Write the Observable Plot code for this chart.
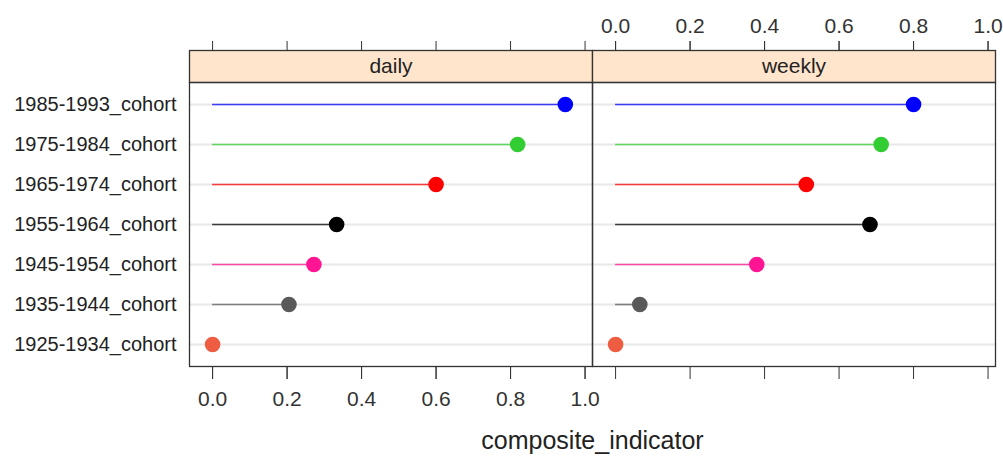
<!DOCTYPE html>
<html><head><meta charset="utf-8">
<script src="https://cdn.jsdelivr.net/npm/d3@7"></script>
<script src="https://cdn.jsdelivr.net/npm/@observablehq/plot@0.6"></script>
<style>
body{margin:0;background:#fff;}
svg{font-family:"Liberation Sans",Arial,sans-serif;}
</style>
</head><body><div id="chart"></div>
<script>
const cohorts = ["1985-1993_cohort","1975-1984_cohort","1965-1974_cohort","1955-1964_cohort","1945-1954_cohort","1935-1944_cohort","1925-1934_cohort"];
const cohortColors = ["#0000ff","#32cd32","#ff0000","#000000","#ff1493","#595959","#ee5c42"];
const panels = ["daily","weekly"];
const dailyValues = [0.947, 0.819, 0.600, 0.333, 0.272, 0.205, 0.0];
const weeklyValues = [0.800, 0.713, 0.512, 0.683, 0.379, 0.065, 0.0];
const xTicks = [0, 0.2, 0.4, 0.6, 0.8, 1.0];
const axisTitle = "composite_indicator";

const rows = panels.flatMap(p => cohorts.map((c, i) => ({
  panel: p, cohort: c, value: (p === "daily" ? dailyValues : weeklyValues)[i]
})));

const W = 1003, H = 459, mT = 82, mB = 93, mL = 189, mR = 8;
const frameH = H - mT - mB;
const stripH = 32;
const fmt = d3.format(".1f");

const chart = Plot.plot({
  width: W, height: H,
  marginLeft: mL, marginRight: mR, marginTop: mT, marginBottom: mB,
  style: {fontFamily: '"Liberation Sans",Arial,sans-serif', background: "#fff", overflow: "visible", color: "#222"},
  fx: {domain: panels, padding: 0, axis: null},
  x: {domain: [-0.062, 1.02], label: null},
  y: {type: "point", domain: cohorts, padding: 0.55, label: null},
  color: {type: "ordinal", domain: cohorts, range: cohortColors},
  marks: [
    Plot.frame({fill: "#ffe5cc", stroke: "#333", strokeWidth: 1.3, insetTop: -stripH, insetBottom: frameH}),
    Plot.ruleY(cohorts, {y: d => d, stroke: "#e8e8e8", strokeWidth: 2}),
    Plot.ruleY(rows, {fx: "panel", y: "cohort", x1: 0, x2: "value", stroke: "cohort", strokeWidth: 1.6, strokeOpacity: 0.75}),
    Plot.dot(rows, {fx: "panel", y: "cohort", x: "value", fill: "cohort", r: 7.8}),
    Plot.text(panels, {fx: d => d, text: d => d, frameAnchor: "top", lineAnchor: "middle", dy: -stripH / 2, fontSize: 21, fill: "#222"}),
    Plot.frame({stroke: "#333", strokeWidth: 1.3}),
    // top ticks (both panels), labels on right panel
    Plot.axisX({anchor: "top", ticks: xTicks, tickSize: 10, dy: -stripH, tickFormat: () => "", color: "#333", label: null}),
    Plot.axisX({anchor: "top", ticks: xTicks, tickSize: 10, tickPadding: 8, dy: -stripH, tickFormat: fmt, facetAnchor: "right", fontSize: 21, color: "#333", label: null}),
    // bottom ticks (both panels), labels on left panel
    Plot.axisX({anchor: "bottom", ticks: xTicks, tickSize: 13, tickFormat: () => "", color: "#333", label: null}),
    Plot.axisX({anchor: "bottom", ticks: xTicks, tickSize: 13, tickPadding: 12, tickFormat: fmt, facetAnchor: "left", fontSize: 21, color: "#333", label: null}),
    Plot.axisY({tickSize: 0, tickPadding: 13, fontSize: 20, color: "#222", label: null}),
    Plot.text([axisTitle], {fx: ["daily"], text: d => d, frameAnchor: "bottom-right", textAnchor: "middle", lineAnchor: "middle", dy: 74, fontSize: 25, fill: "#222"})
  ]
});
document.getElementById("chart").appendChild(chart);
</script>
</body></html>
